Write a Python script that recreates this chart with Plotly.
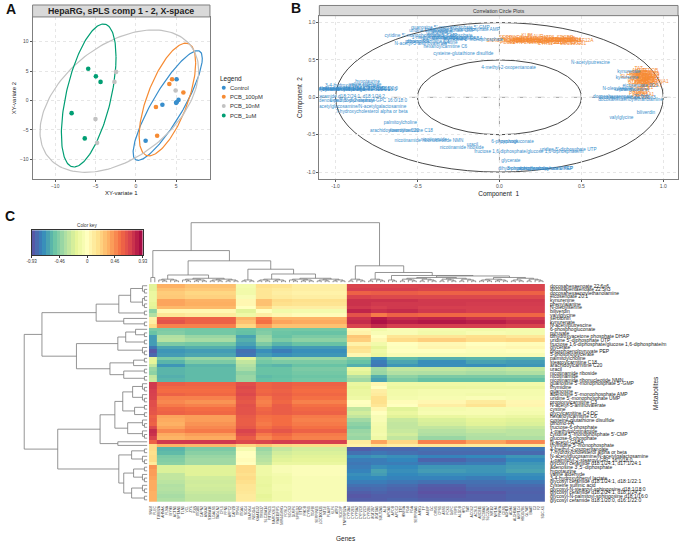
import numpy as np
import plotly.graph_objects as go

W, H = 685, 543
BLUE, ORANGE, GRAY, GREEN = "#388ECC", "#F68B33", "#C2C2C2", "#009E73"
FONT = "Liberation Sans"

# ---------- panel A ----------
groups = ["Control", "PCB_100pM", "PCB_10nM", "PCB_1uM"]
group_colors = [BLUE, ORANGE, GRAY, GREEN]
ax_x = [[1.22, 3.3, 5.06, 5.06, 5.3, 5.0], [2.5, 2.65, 4.16, 4.5, 5.9],
        [-2.45, -2.65, -5.0, -4.8, 4.94], [-5.9, -4.95, -4.37, -7.96, -6.33]]
ax_y = [[-6.84, -0.73, 3.6, -0.3, 0.1, -0.4], [-1.1, -6.0, 2.8, 3.6, 1.36],
        [4.86, 3.16, -3.16, -7.2, 1.7], [5.4, 4.1, 3.16, -2.15, -6.44]]
# ellipse centre x, centre y, half-width, half-height, correlation
ell_cx = [3.96, 3.92, -2.04, -5.84]
ell_cy = [-0.85, 0.17, -0.11, 0.85]
ell_a = [4.29, 3.51, 9.84, 3.39]
ell_b = [9.32, 9.58, 12.1, 12.15]
ell_r = [0.86, 0.65, 0.43, 0.54]

# ---------- heat map (rows x gene blocks) ----------
metabolites = [
    "docosahexaenoate 22:6n6", "docosapentaenoate 22:5n3", "docosahexaenoylethanolamine", "eicosenoate 20:1",
    "kynurenine", "phenylalanine", "N-oleoylserine", "biliverdin", "valylglycine", "serotonin", "kynurenate",
    "N-acetylputrescine", "6-phosphogluconate", "pyruvate", "dihydroxyacetone phosphate DHAP",
    "uridine 5'-diphosphate UTP", "fructose 1,6-diphosphate/glucose 1,6-diphosphate/m", "glycerate",
    "phosphoenolpyruvate PEP", "3-phosphoglycerate", "palmitoylcholine", "stearoylcarnitine C18",
    "arachidoylcarnitine C20", "uracil", "nicotinamide riboside", "nicotinamide",
    "nicotinamide ribonucleotide NMN", "guanosine 5'-monophosphate 5'-GMP", "thymidine", "guanosine",
    "adenosine 5'-monophosphate AMP", "uridine 5'-monophosphate UMP", "propionylcarnitine C3",
    "N-acetyl-5-aminovalerate", "cystine", "glycylcarnitine C4:DC", "hexanoylcarnitine C6",
    "cysteine-glutathione disulfide", "dihomo-FA", "fructose-6-phosphate", "1-methylnicotinamide",
    "cytidine 5'-monophosphate 5'-CMP", "glucose-6-phosphate", "N-acetyl-GABA", "thymidine 5'-monophosphate",
    "4-methyl-2-oxopentanoate", "7-hydroxycholesterol alpha or beta", "N-acetylglucosamine/N-acetylgalactosamine",
    "1-palmitoyl-2-stearoyl-GPC 16:0/18:0", "glycosyl ceramide d18:1/24:1, d17:1/24:1",
    "adenosine 3',5'-diphosphate", "hypotaurine", "valine aldehyde", "3-4-hydroxyphenyl lactate",
    "glycosyl ceramide d18:1/24:1, d18:1/22:1", "cysteine sulfinic acid",
    "glycosyl-N-stearoyl-sphingosine d18:1/18:0", "glycosyl ceramide d18:2/24:1, d18:1/24:2",
    "glycosyl-N-palmitoyl-sphingosine d18:1/16:0", "glycosyl ceramide d18:1/20:0, d16:1/22:0",
]
met_x = [0.74, 0.78, 0.80, 0.86, 0.78, 0.82, 0.72, 0.894, 0.745, 0.76, 0.79, 0.556, 0.08, 0.06, 0.22, 0.42, 0.18,
         0.07, 0.28, 0.17, -0.604, -0.54, -0.64, -0.165, -0.23, -0.40, -0.43, -0.30, -0.35, -0.38, -0.22, -0.35,
         -0.44, -0.48, -0.30, -0.34, -0.33, -0.22, -0.50, -0.30, -0.40, -0.48, -0.28, -0.20, -0.16, 0.056, -0.78,
         -0.85, -0.80, -0.93, -0.94, -0.805, -0.82, -0.90, -0.93, -0.95, -0.90, -0.96, -0.98, -0.88]
met_y = [0.01, 0.0, -0.03, 0.15, 0.26, 0.10, 0.11, -0.213, -0.28, 0.10, 0.34, 0.467, -0.595, -0.59, -0.95, -0.70,
         -0.725, -0.853, -0.955, -0.96, -0.347, -0.453, -0.453, -0.64, -0.675, -0.575, -0.578, 0.93, 0.87, 0.86,
         0.90, 0.89, 0.74, 0.72, 0.73, 0.78, 0.67, 0.58, 0.74, 0.82, 0.79, 0.82, 0.80, 0.78, 0.77, 0.395, -0.195,
         -0.133, -0.05, 0.10, -0.05, 0.213, 0.17, 0.15, 0.12, 0.10, 0.10, 0.01, 0.11, 0.12]

genes = [
    "SNX8", "PLEC", "TUBB2A", "AHNAK", "FLNA", "MYH9", "ACTN1", "SPTAN1", "TLN1", "VCL", "ZYX", "PXN", "ITGB1",
    "CAPN2", "ANXA2", "S100A10", "LGALS1", "TAGLN2", "CFL1", "PFN1", "ARPC2", "CAPZB", "TPM4", "ITGA5", "SDC4",
    "MAP4K4", "NEDD4L", "KIAA1522", "TRIM37", "SLC39A14", "PITPNC1", "MARCKSL1", "RAB11FIP5", "MIR4458HG", "FOSL2",
    "SOCS3", "DUSP6", "SPRED2", "ETS2", "RHOB", "CYR61", "TGFBI", "SERPINE1", "LOC100131", "NT5E", "PLAUR", "KLF6",
    "ATF3", "SDCBP", "TNFRSF12A",
    "CYP3A4", "CYP2E1", "CYP1A2", "CYP2C8", "CYP2C9", "CYP2B6", "UGT2B7", "UGT1A1", "SULT2A1", "ALB", "APOA1",
    "APOB", "APOC3", "TTR", "HNF4A", "FGB", "FGA", "SERPINA1", "AHSG", "TF", "AMBP", "GC", "ORM1", "CPS1", "ASS1",
    "PCK1", "G6PC", "FBP1", "ALDOB", "HPD", "TAT", "ACOX2", "ACSL1", "ABCB11", "SLC10A1", "SLC22A7", "NR1I2",
    "NR1H4", "PPARA", "CES1", "ADH1B", "ADH4", "ALDH1A1", "AKR1C4", "HSD17B6", "GLYAT", "BAAT", "C3", "F2", "SDC-K1",
]
gene_x = [-0.04, 0.03, 0.08, 0.13, 0.17, 0.21, 0.06, 0.24, 0.27, 0.31, 0.11, 0.15, 0.34, 0.19, 0.23, 0.38, 0.41,
          0.44, 0.47, 0.29, 0.33, 0.09, 0.36, 0.40, 0.46, 0.12, 0.16, 0.20, 0.25, 0.43, 0.30, 0.18, 0.35, 0.39,
          0.05, 0.22, 0.26, 0.14, 0.37, 0.42, 0.28, 0.32, 0.07, 0.45, 0.10, 0.22, 0.17, 0.30, 0.40, 0.49,
          0.86, 0.90, 0.84, 0.88, 0.92, 0.87, 0.85, 0.91, 0.89, 0.83, 0.93, 0.86, 0.88, 0.90, 0.84, 0.92, 0.87, 0.96,
          0.85, 0.89, 0.91, 0.86, 0.82, 0.88, 0.94, 0.90, 0.84, 0.87, 0.92, 0.89, 0.85, 0.91, 0.86, 0.88, 0.80, 0.93,
          0.87, 0.90, 0.84, 0.89, 0.86, 0.92, 0.88, 0.85, 0.91, 0.83, 0.87, 0.90, 0.95, 0.86]
gene_y = [0.75, 0.76, 0.74, 0.76, 0.73, 0.75, 0.78, 0.77, 0.74, 0.76, 0.73, 0.78, 0.73, 0.76, 0.73, 0.75, 0.73,
          0.75, 0.73, 0.78, 0.75, 0.76, 0.77, 0.74, 0.77, 0.74, 0.75, 0.78, 0.74, 0.76, 0.73, 0.74, 0.75, 0.77,
          0.73, 0.75, 0.76, 0.77, 0.73, 0.78, 0.72, 0.77, 0.79, 0.72, 0.75, 0.81, 0.83, 0.80, 0.80, 0.76,
          0.25, 0.28, 0.22, 0.18, 0.30, 0.33, 0.15, 0.21, 0.26, 0.27, 0.24, 0.20, 0.31, 0.17, 0.30, 0.19, 0.24, 0.21,
          0.35, 0.36, 0.25, 0.12, 0.32, 0.09, 0.27, 0.13, 0.10, 0.29, 0.35, 0.22, 0.38, 0.16, 0.07, 0.33, 0.28, 0.15,
          0.19, 0.23, 0.05, 0.29, 0.27, 0.26, 0.04, 0.23, 0.32, 0.19, 0.02, 0.11, 0.18, 0.0]

block_cols = [2, 7, 13, 5, 4, 5, 14, 6, 4, 8, 12, 10, 10]
heat_rows = [
    [-.20, .36, .30, -.08, .18, .16, .10, .72, .72, .72, .73, .72, .72],
    [-.20, .30, .27, -.10, .15, .12, .10, .74, .74, .74, .72, .73, .72],
    [-.15, .26, .22, -.10, .15, .10, .08, .60, .62, .62, .60, .60, .60],
    [-.15, .27, .24, -.05, .15, .12, .10, .72, .70, .70, .70, .70, .70],
    [-.15, .40, .36, .05, .30, .20, .18, .78, .78, .78, .76, .76, .76],
    [-.18, .40, .37, .05, .30, .18, .16, .78, .76, .76, .76, .75, .75],
    [-.20, .33, .33, .00, .22, .10, .10, .76, .74, .76, .74, .74, .74],
    [-.45, .05, .05, -.20, .00, -.10, -.08, .82, .78, .80, .76, .74, .74],
    [-.35, .15, .12, -.12, .10, .05, .02, .66, .52, .60, .58, .58, .58],
    [.08, .62, .60, .35, .52, .35, .35, .78, .86, .80, .82, .78, .76],
    [.10, .66, .60, .30, .55, .40, .38, .80, .88, .84, .86, .84, .80],
    [.20, .50, .50, .22, .42, .30, .30, .72, .80, .74, .74, .74, .72],
    [-.50, -.50, -.52, -.55, -.50, -.52, -.52, .05, -.10, -.05, -.08, -.10, -.08],
    [-.55, -.48, -.52, -.56, -.48, -.54, -.55, .08, -.05, -.05, -.10, -.06, -.08],
    [-.68, -.35, -.42, -.66, -.42, -.55, -.50, .28, .00, .15, .15, .18, .14],
    [-.68, -.33, -.38, -.62, -.40, -.50, -.45, .25, .05, .20, .25, .20, .22],
    [-.68, -.50, -.52, -.66, -.50, -.60, -.55, .08, -.10, .00, .04, .00, .02],
    [-.80, -.65, -.62, -.72, -.62, -.70, -.68, .18, -.18, -.02, .06, .03, .05],
    [-.90, -.70, -.68, -.82, -.72, -.78, -.72, .15, -.12, .00, .00, -.02, .00],
    [-.85, -.68, -.65, -.80, -.68, -.72, -.70, .05, -.15, -.05, -.05, -.05, -.05],
    [-.18, -.50, -.42, -.20, -.48, -.42, -.42, -.50, -.72, -.58, -.62, -.60, -.62],
    [-.18, -.60, -.50, -.30, -.52, -.50, -.50, -.55, -.78, -.65, -.72, -.66, -.68],
    [-.30, -.70, -.60, -.35, -.58, -.60, -.55, -.62, -.80, -.70, -.72, -.72, -.70],
    [-.42, -.60, -.58, -.38, -.55, -.55, -.50, -.15, -.40, -.30, -.30, -.32, -.30],
    [-.45, -.60, -.58, -.45, -.55, -.55, -.52, -.20, -.42, -.35, -.36, -.38, -.36],
    [-.30, -.62, -.58, -.42, -.58, -.56, -.54, -.35, -.62, -.45, -.50, -.50, -.50],
    [-.28, -.60, -.58, -.42, -.56, -.55, -.52, -.40, -.66, -.50, -.56, -.56, -.56],
    [.76, .62, .60, .68, .60, .62, .60, -.15, .05, -.12, -.12, -.12, -.10],
    [.76, .58, .58, .70, .60, .62, .58, -.18, .00, -.15, -.15, -.14, -.14],
    [.74, .56, .56, .68, .58, .60, .56, -.15, .10, -.10, -.08, -.08, -.08],
    [.73, .60, .58, .70, .60, .62, .58, -.15, .12, -.10, -.08, -.10, -.08],
    [.72, .50, .50, .66, .52, .60, .55, -.12, .18, -.08, -.06, -.04, -.06],
    [.68, .48, .45, .64, .50, .58, .50, .00, .18, .02, .05, .12, .05],
    [.68, .52, .50, .67, .52, .62, .55, -.02, .15, .00, .10, .16, .06],
    [.66, .58, .56, .66, .58, .62, .58, -.30, .05, -.20, -.08, -.06, -.06],
    [.65, .60, .58, .66, .60, .62, .60, -.25, .00, -.15, -.06, -.06, -.08],
    [.60, .40, .42, .63, .55, .56, .52, -.30, -.05, -.20, -.15, -.12, -.14],
    [.62, .38, .42, .62, .54, .56, .50, -.40, -.05, -.28, -.22, -.18, -.20],
    [.60, .36, .45, .62, .52, .56, .52, -.45, -.08, -.30, -.24, -.20, -.22],
    [.70, .40, .48, .64, .55, .60, .55, -.48, -.10, -.30, -.30, -.26, -.28],
    [.80, .48, .52, .72, .62, .65, .60, -.42, -.10, -.28, -.34, -.30, -.32],
    [.78, .38, .42, .68, .52, .58, .52, -.40, -.08, -.25, -.36, -.34, -.32],
    [.72, .35, .38, .62, .48, .54, .50, -.42, -.12, -.30, -.42, -.36, -.36],
    [.60, .76, .76, .70, .72, .75, .74, .12, .40, .22, .50, .40, .48],
    [.20, .35, .33, .22, .28, .22, .20, .08, .15, .10, .14, .12, .12],
    [.20, -.60, -.50, -.08, -.42, -.30, -.25, -.88, -.85, -.85, -.82, -.82, -.80],
    [.18, -.58, -.46, .00, -.38, -.25, -.22, -.82, -.80, -.82, -.84, -.84, -.84],
    [.20, -.50, -.42, .00, -.35, -.22, -.20, -.72, -.70, -.72, -.76, -.74, -.70],
    [.20, -.48, -.40, .02, -.33, -.20, -.18, -.78, -.78, -.75, -.86, -.82, -.74],
    [.12, -.46, -.40, .00, -.30, -.15, -.15, -.80, -.78, -.78, -.80, -.78, -.70],
    [.45, -.22, -.20, .20, -.12, -.05, -.03, -.78, -.72, -.74, -.70, -.70, -.68],
    [.42, -.22, -.20, .20, -.12, -.05, -.03, -.76, -.66, -.72, -.68, -.70, -.66],
    [.42, -.30, -.20, .18, -.12, -.08, -.03, -.72, -.68, -.74, -.72, -.72, -.72],
    [.40, -.30, -.25, .20, -.15, -.10, -.05, -.74, -.74, -.76, -.76, -.78, -.74],
    [.38, -.32, -.26, .18, -.15, -.10, -.05, -.78, -.78, -.80, -.82, -.82, -.80],
    [.38, -.35, -.25, .15, -.16, -.08, -.05, -.82, -.82, -.84, -.88, -.84, -.84],
    [.38, -.34, -.26, .15, -.15, -.08, -.05, -.85, -.84, -.86, -.90, -.86, -.86],
    [.36, -.36, -.28, .14, -.15, -.10, -.05, -.88, -.86, -.88, -.92, -.90, -.87],
    [.36, -.38, -.30, .12, -.18, -.10, -.05, -.90, -.88, -.88, -.90, -.88, -.86],
    [.36, -.36, -.30, .12, -.16, -.10, -.05, -.88, -.88, -.86, -.88, -.88, -.86],
]
key_ticks = [-0.93, -0.46, 0, 0.46, 0.93]
key_labels = ["-0.93", "-0.46", "0", "0.46", "0.93"]
spectral = [[0, "#5E4FA2"], [.1, "#3288BD"], [.2, "#66C2A5"], [.3, "#ABDDA4"], [.4, "#E6F598"], [.5, "#FFFFBF"],
            [.6, "#FEE08B"], [.7, "#FDAE61"], [.8, "#F46D43"], [.9, "#D53E4F"], [1, "#9E0142"]]

# dendrograms: (height, left, right); an integer is a low sub-tree over that many leaves
LOW_H = [1.5, 2.5, 3.3, 4.2, 5.0]
col_tree = (60, (32, (5, 1, 1), (21.7, (7.5, 6, 15), (13.3, 4, (8.5, 8, 15)))),
            (16.7, 5, (10, 5, (7, 3, (6.5, 20, 17)))))
ROW_LOW_H = [3, 5, 8, 11]
row_tree = (125,
            (107, (52, (29, (17, 3, 4), 2), (24, 1, 2)),
             (72, (30, (22, (12, 1, 2), 2), 3), (38, (14, 2, 1), (24, 2, 2)))),
            (91, (48, (33, (25, (15, 3, 3), (13, 2, 2)), (20, 3, 3)), (30, 1, 1)),
             (29, (16, 2, 3), (24, (14, 2, 3), (16, 3, 2)))))


def dom_x(a, b):
    return [a / W, b / W]


def dom_y(t, b):
    return [1 - b / H, 1 - t / H]


def tree_lines(tree, low):
    """Walk a merge tree and return bracket paths as (position, height) lists."""
    pos, hs = [], []
    nxt = [0]

    def expand(n):
        if n == 1:
            return 1
        d = int(np.ceil(np.log2(n))) - 1
        return (low[min(d, len(low) - 1)], expand(n // 2), expand(n - n // 2))

    def walk(node):
        if isinstance(node, int):
            node = expand(node)
        if node == 1:
            nxt[0] += 1
            return nxt[0] - 0.5, 0.0
        h, l, r = node
        pl, hl = walk(l)
        pr, hr = walk(r)
        pos.extend([pl, pl, pr, pr, None])
        hs.extend([hl, h, h, hr, None])
        return (pl + pr) / 2, h

    walk(tree)
    return pos, hs


fig = go.Figure()

# --- A ---
t = np.linspace(0, 2 * np.pi, 181)
for i, g in enumerate(groups):
    ex = ell_cx[i] + ell_a[i] * np.cos(t)
    ey = ell_cy[i] + ell_b[i] * (ell_r[i] * np.cos(t) + np.sqrt(1 - ell_r[i] ** 2) * np.sin(t))
    fig.add_trace(go.Scatter(x=ex, y=ey, mode="lines", line=dict(color=group_colors[i], width=1.2),
                             hoverinfo="skip", showlegend=False, xaxis="x", yaxis="y"))
for i, g in enumerate(groups):
    fig.add_trace(go.Scatter(x=ax_x[i], y=ax_y[i], mode="markers", name=g,
                             marker=dict(color=group_colors[i], size=4.6), showlegend=False, xaxis="x", yaxis="y"))

# --- B ---
fig.add_trace(go.Scatter(x=gene_x, y=gene_y, text=genes, mode="text", textfont=dict(color=ORANGE, size=4.8, family=FONT),
                         showlegend=False, xaxis="x2", yaxis="y2"))
fig.add_trace(go.Scatter(x=met_x, y=met_y, text=metabolites, mode="text", textfont=dict(color=BLUE, size=4.7, family=FONT),
                         showlegend=False, xaxis="x2", yaxis="y2"))

# --- C ---
edges = np.concatenate([[0], np.cumsum(block_cols)])
fig.add_trace(go.Heatmap(z=heat_rows, x=edges, y=np.arange(len(heat_rows) + 1), zmin=-0.93, zmax=0.93,
                         colorscale=spectral, showscale=False, xaxis="x3", yaxis="y3"))
cx, ch = tree_lines(col_tree, LOW_H)
fig.add_trace(go.Scatter(x=cx, y=ch, mode="lines", line=dict(color="#7a7a7a", width=0.8), hoverinfo="skip",
                         showlegend=False, xaxis="x4", yaxis="y4"))
rx, rh = tree_lines(row_tree, ROW_LOW_H)
fig.add_trace(go.Scatter(x=rh, y=rx, mode="lines", line=dict(color="#7a7a7a", width=0.8), hoverinfo="skip",
                         showlegend=False, xaxis="x5", yaxis="y5"))
key_edges = np.linspace(-0.93, 0.93, 32)
fig.add_trace(go.Heatmap(z=[(key_edges[:-1] + key_edges[1:]) / 2], x=key_edges, y=[0, 1], zmin=-0.93, zmax=0.93,
                         colorscale=spectral, showscale=False, xaxis="x6", yaxis="y6"))

panel_axis = dict(showline=True, linecolor="#7f7f7f", linewidth=1, mirror=True, ticks="outside", ticklen=2,
                  tickcolor="#555", tickwidth=0.5, tickfont=dict(size=5, color="#4d4d4d", family=FONT),
                  gridcolor="#e6e6e6", griddash="dot", gridwidth=0.7, zeroline=False, showgrid=True, layer="below traces")
hidden = dict(visible=False, showgrid=False, zeroline=False)

fig.update_layout(
    width=W, height=H, margin=dict(l=0, r=0, t=0, b=0), paper_bgcolor="white", plot_bgcolor="white",
    font=dict(family=FONT), showlegend=False, hovermode=False,
    xaxis=dict(panel_axis, domain=dom_x(28, 208), range=[-12.8, 9.2], tickvals=[-10, -5, 0, 5],
               title=dict(text="XY-variate 1", font=dict(size=6, color="#222"), standoff=2), anchor="y"),
    yaxis=dict(panel_axis, domain=dom_y(16, 179), range=[-13.4, 14.2], tickvals=[-10, -5, 0, 5, 10],
               title=dict(text="XY-variate 2", font=dict(size=6, color="#222"), standoff=3), anchor="x"),
    xaxis2=dict(panel_axis, domain=dom_x(319, 683), range=[-1.099, 1.09], tickvals=[-1, -.5, 0, .5, 1],
                ticktext=["-1.0", "-0.5", "0.0", "0.5", "1.0"], anchor="y2",
                title=dict(text="Component  1", font=dict(size=6.5, color="#222"), standoff=3)),
    yaxis2=dict(panel_axis, domain=dom_y(14.7, 179), range=[-1.097, 1.093], tickvals=[-1, -.5, 0, .5, 1],
                ticktext=["-1.0", "-0.5", "0.0", "0.5", "1.0"], anchor="x2",
                title=dict(text="Component  2", font=dict(size=6.5, color="#222"), standoff=3)),
    xaxis3=dict(domain=dom_x(146, 548), range=[0, 100], anchor="y3", tickmode="array",
                tickvals=[i + 0.5 for i in range(len(genes))], ticktext=genes, tickangle=-90, ticks="outside", ticklen=2,
                tickcolor="rgba(0,0,0,0)", tickfont=dict(size=3.4, color="#333", family=FONT), showgrid=False,
                zeroline=False),
    yaxis3=dict(domain=dom_y(284, 502.5), range=[60, 0], anchor="x3", side="right", tickmode="array",
                tickvals=[i + 0.5 for i in range(len(metabolites))], ticktext=metabolites, ticks="outside", ticklen=3,
                tickcolor="rgba(0,0,0,0)", tickfont=dict(size=5, color="#222", family=FONT), showgrid=False,
                zeroline=False),
    xaxis4=dict(hidden, domain=dom_x(146, 548), range=[0, 100], anchor="y4"),
    yaxis4=dict(hidden, domain=dom_y(220, 282.5), range=[0, 62.5], anchor="x4"),
    xaxis5=dict(hidden, domain=dom_x(0, 144.5), range=[144.5, 0], anchor="y5"),
    yaxis5=dict(hidden, domain=dom_y(284, 502.5), range=[60, 0], anchor="x5"),
    xaxis6=dict(domain=dom_x(27, 140), range=[-0.93, 0.93], anchor="y6", tickmode="array", tickvals=key_ticks,
                ticktext=key_labels, ticks="outside", ticklen=2, tickwidth=0.5, tickcolor="#333",
                tickfont=dict(size=4.5, color="#333", family=FONT), showgrid=False, zeroline=False,
                showline=True, linecolor="#333", linewidth=0.5, mirror=True),
    yaxis6=dict(domain=dom_y(230, 255), range=[0, 1], anchor="x6", showticklabels=False, ticks="", showgrid=False,
                zeroline=False, showline=True, linecolor="#333", linewidth=0.5, mirror=True),
)

shapes = []
for x0, x1, y0, y1 in [(28, 208, 4, 16), (319, 683, 4.5, 14.7)]:
    shapes.append(dict(type="rect", xref="paper", yref="paper", x0=x0 / W, x1=x1 / W, y0=1 - y1 / H, y1=1 - y0 / H,
                       fillcolor="#d9d9d9", line=dict(color="#7f7f7f", width=1)))
for r in [1, 0.5]:
    shapes.append(dict(type="circle", xref="x2", yref="y2", x0=-r, x1=r, y0=-r, y1=r, layer="below",
                       line=dict(color="#333", width=0.9)))
shapes.append(dict(type="line", xref="x2", yref="y2", x0=-1.099, x1=1.09, y0=0, y1=0, layer="below",
                   line=dict(color="#777", width=0.7, dash="dash")))
shapes.append(dict(type="line", xref="x2", yref="y2", x0=0, x1=0, y0=-1.097, y1=1.093, layer="below",
                   line=dict(color="#777", width=0.7, dash="dash")))
legend_y = [87, 96, 105.5, 115]
for c, ly in zip(group_colors, legend_y):
    shapes.append(dict(type="circle", xref="paper", yref="paper", x0=220 / W, x1=224 / W, y0=1 - (ly + 2) / H,
                       y1=1 - (ly - 2) / H, fillcolor=c, line=dict(width=0)))


def note(text, x, y, size, color="#222", bold=False, anchor="center", angle=0):
    return dict(text=f"<b>{text}</b>" if bold else text, x=x / W, y=1 - y / H, xref="paper", yref="paper",
                showarrow=False, font=dict(size=size, color=color, family=FONT), xanchor=anchor, yanchor="middle",
                textangle=angle)


notes = [note("A", 6, 8, 14, "#111", True), note("B", 295, 7, 14, "#111", True), note("C", 5, 216, 14, "#111", True),
         note("HepaRG, sPLS comp 1 - 2, X-space", 118, 10, 8.8, "#222", True),
         note("Correlation Circle Plots", 501, 9.7, 5, "#333"),
         note("Color key", 83, 225, 4.7, "#333"),
         note("Legend", 216, 78, 6.5, "#222", anchor="left"),
         note("Genes", 346, 539, 6.5, "#222"),
         note("Metabolites", 660, 393, 6.5, "#222", angle=-90)]
for g, ly in zip(groups, legend_y):
    notes.append(note(g, 226.5, ly, 5.8, "#333", anchor="left"))
fig.update_layout(shapes=shapes, annotations=notes)

fig.write_html("out.html", config={"displayModeBar": False},
               post_script="document.body.style.margin='0';document.body.style.overflow='hidden';")
